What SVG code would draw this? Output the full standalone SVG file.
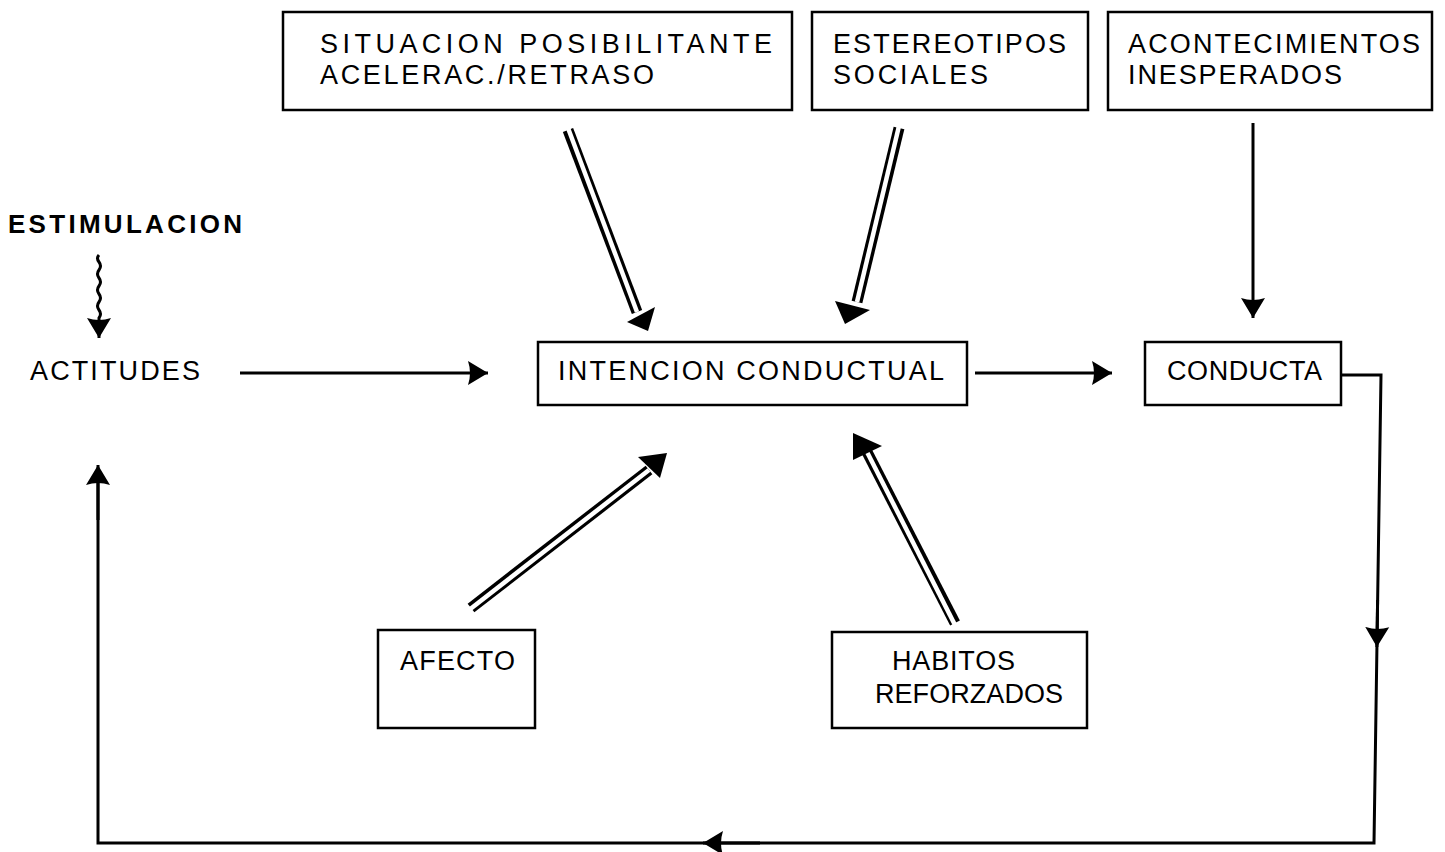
<svg xmlns="http://www.w3.org/2000/svg" width="1445" height="852" viewBox="0 0 1445 852">
<style>
  .box { fill: #fff; stroke: #000; stroke-width: 2.5; }
  .t { font-family: "Liberation Sans", Arial, sans-serif; font-size: 27px; fill: #000; }
  .b { font-weight: bold; font-size: 26px; }
  .ln { fill: none; stroke: #000; stroke-width: 3; }
  .dbl-o { fill: none; stroke: #000; stroke-width: 11; }
  .dbl-i { fill: none; stroke: #fff; stroke-width: 4.5; }
  .head { fill: #000; }
</style>
<defs>
  <marker id="ah" markerUnits="userSpaceOnUse" markerWidth="24" markerHeight="26" refX="20" refY="13" orient="auto">
    <path d="M0,1 L20,13 L0,25 Q4,13 0,1 z" fill="#000"/>
  </marker>
</defs>
<rect width="1445" height="852" fill="#fff"/>

<g id="n-situacion">
  <rect class="box" x="283" y="12" width="509" height="98"/>
  <text class="t" x="320" y="53" textLength="452" lengthAdjust="spacing">SITUACION POSIBILITANTE</text>
  <text class="t" x="320" y="84" textLength="334" lengthAdjust="spacing">ACELERAC./RETRASO</text>
</g>
<g id="n-estereotipos">
  <rect class="box" x="812" y="12" width="276" height="98"/>
  <text class="t" x="833" y="53" textLength="233" lengthAdjust="spacing">ESTEREOTIPOS</text>
  <text class="t" x="833" y="84" textLength="155" lengthAdjust="spacing">SOCIALES</text>
</g>
<g id="n-acontecimientos">
  <rect class="box" x="1108" y="12" width="324" height="98"/>
  <text class="t" x="1128" y="53" textLength="292" lengthAdjust="spacing">ACONTECIMIENTOS</text>
  <text class="t" x="1128" y="84" textLength="214" lengthAdjust="spacing">INESPERADOS</text>
</g>
<g id="n-estimulacion">
  <text class="t b" x="8" y="233" textLength="234" lengthAdjust="spacing">ESTIMULACION</text>
</g>
<g id="n-actitudes">
  <text class="t" x="30" y="380" textLength="170" lengthAdjust="spacing">ACTITUDES</text>
</g>
<g id="n-intencion">
  <rect class="box" x="538" y="342" width="429" height="63"/>
  <text class="t" x="558" y="380" textLength="386" lengthAdjust="spacing">INTENCION CONDUCTUAL</text>
</g>
<g id="n-conducta">
  <rect class="box" x="1145" y="342" width="196" height="63"/>
  <text class="t" x="1167" y="380" textLength="155" lengthAdjust="spacing">CONDUCTA</text>
</g>
<g id="n-afecto">
  <rect class="box" x="378" y="630" width="157" height="98"/>
  <text class="t" x="400" y="670" textLength="115" lengthAdjust="spacing">AFECTO</text>
</g>
<g id="n-habitos">
  <rect class="box" x="832" y="632" width="255" height="96"/>
  <text class="t" x="892" y="670" textLength="123" lengthAdjust="spacing">HABITOS</text>
  <text class="t" x="875" y="703" textLength="188" lengthAdjust="spacing">REFORZADOS</text>
</g>

<g id="connectors">
  <!-- wavy stimulation arrow -->
  <path class="ln" stroke-width="2" d="M99,255 q-3,3 0,7 q3,4 0,8 q-3,4 0,8 q3,4 0,8 q-3,4 0,8 q3,4 0,8 q-3,4 0,8 q3,4 0,8 l0,20" marker-end="url(#ah)"/>
  <!-- actitudes -> intencion -->
  <path class="ln" d="M240,373 H488" marker-end="url(#ah)"/>
  <!-- intencion -> conducta -->
  <path class="ln" d="M975,373 H1112" marker-end="url(#ah)"/>
  <!-- acontecimientos -> conducta -->
  <path class="ln" d="M1253,123 V318" marker-end="url(#ah)"/>
  <!-- feedback loop -->
  <path class="ln" d="M1341,375 H1381 L1374,843 H98 V475"/>
  <path class="ln" d="M1377.6,600 L1376.9,647" marker-end="url(#ah)"/>
  <path class="ln" d="M760,843 H703" marker-end="url(#ah)"/>
  <path class="ln" d="M98,520 V465" marker-end="url(#ah)"/>

  <!-- double arrows -->
  <g id="dbl-situacion">
    <path class="dbl-o" d="M568,130 L637,312"/>
    <path class="dbl-i" d="M568,128 L637,312"/>
    <polygon class="head" points="627,322 655,307 648,331"/>
  </g>
  <g id="dbl-estereotipos">
    <path class="dbl-o" d="M899,128 L857,302"/>
    <path class="dbl-i" d="M899,126 L857,302"/>
    <polygon class="head" points="835,301 870,310 845,324"/>
  </g>
  <g id="dbl-afecto">
    <path class="dbl-o" d="M471,608 L649,470"/>
    <path class="dbl-i" d="M469,610 L649,470"/>
    <polygon class="head" points="638,457 667,453 660,478"/>
  </g>
  <g id="dbl-habitos">
    <path class="dbl-o" d="M955,623 L866,450"/>
    <path class="dbl-i" d="M955,625 L866,450"/>
    <polygon class="head" points="853,433 882,446 853,460"/>
  </g>
</g>
</svg>
